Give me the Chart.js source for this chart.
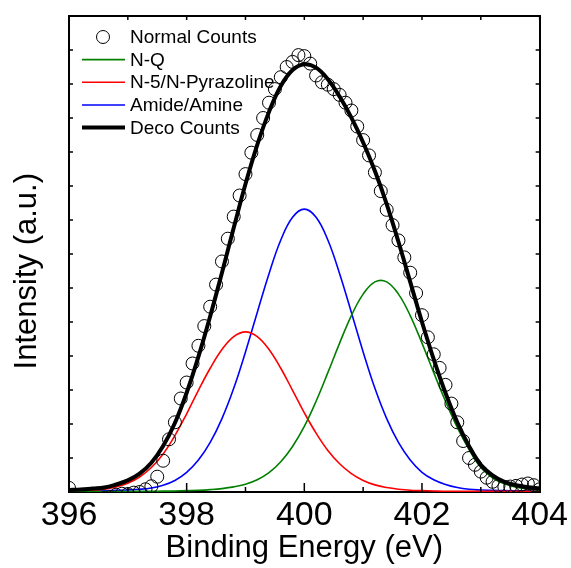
<!DOCTYPE html>
<html>
<head>
<meta charset="utf-8">
<script src="https://cdn.jsdelivr.net/npm/chart.js@4.4.1/dist/chart.umd.min.js"></script>
<style>
html, body { margin: 0; padding: 0; background: #fff; }
canvas { display: block; }
</style>
</head>
<body>
<canvas id="xps-canvas" width="571" height="568"></canvas>
<script>
// fitted components, binding energy grid (eV)
const energy = [396.0, 396.2, 396.4, 396.6, 396.8, 397.0, 397.2, 397.4, 397.6, 397.8,
	398.0, 398.2, 398.4, 398.6, 398.8, 399.0, 399.2, 399.4, 399.6, 399.8,
	400.0, 400.2, 400.4, 400.6, 400.8, 401.0, 401.2, 401.4, 401.6, 401.8,
	402.0, 402.2, 402.4, 402.6, 402.8, 403.0, 403.2, 403.4, 403.6, 403.8, 404.0];

const nQ = [0.01, 0.01, 0.01, 0.01, 0.015, 0.015, 0.02, 0.02, 0.025, 0.03,
	0.04, 0.05, 0.07, 0.10, 0.15, 0.23, 0.36, 0.57, 0.89, 1.34,
	1.93, 2.67, 3.51, 4.38, 5.19, 5.82, 6.18, 6.18, 5.82, 5.19,
	4.38, 3.51, 2.67, 1.90, 1.25, 0.72, 0.42, 0.24, 0.14, 0.09, 0.06];

const n5Pyrazoline = [0.02, 0.03, 0.05, 0.08, 0.15, 0.26, 0.44, 0.72, 1.12, 1.66,
	2.30, 2.99, 3.64, 4.19, 4.57, 4.71, 4.57, 4.19, 3.64, 2.99,
	2.33, 1.73, 1.22, 0.83, 0.54, 0.34, 0.21, 0.13, 0.08, 0.05,
	0.04, 0.03, 0.02, 0.02, 0.02, 0.02, 0.02, 0.02, 0.02, 0.02, 0.02];

const amideAmine = [0.03, 0.03, 0.035, 0.04, 0.05, 0.06, 0.08, 0.12, 0.20, 0.34,
	0.58, 0.94, 1.46, 2.16, 3.05, 4.12, 5.28, 6.42, 7.41, 8.08,
	8.32, 8.08, 7.41, 6.42, 5.28, 4.12, 3.05, 2.16, 1.46, 0.94,
	0.58, 0.36, 0.22, 0.13, 0.08, 0.06, 0.05, 0.04, 0.035, 0.03, 0.03];

const decoCounts = [0.06, 0.07, 0.10, 0.13, 0.22, 0.34, 0.54, 0.86, 1.35, 2.03,
	2.92, 3.98, 5.17, 6.45, 7.77, 9.06, 10.21, 11.18, 11.94, 12.41,
	12.58, 12.48, 12.14, 11.63, 11.01, 10.28, 9.44, 8.47, 7.36, 6.18,
	5.00, 3.90, 2.91, 2.05, 1.35, 0.80, 0.49, 0.30, 0.20, 0.14, 0.11];

// measured points
const countsEnergy = [396.0, 396.1, 396.2, 396.3, 396.4, 396.5, 396.6, 396.7, 396.8, 396.9,
	397.0, 397.1, 397.2, 397.3, 397.4, 397.5, 397.6, 397.7, 397.8, 397.9,
	398.0, 398.1, 398.2, 398.3, 398.4, 398.5, 398.6, 398.7, 398.8, 398.9,
	399.0, 399.1, 399.2, 399.3, 399.4, 399.5, 399.6, 399.7, 399.8, 399.9,
	400.0, 400.1, 400.2, 400.3, 400.4, 400.5, 400.6, 400.7, 400.8, 400.9,
	401.0, 401.1, 401.2, 401.3, 401.4, 401.5, 401.6, 401.7, 401.8, 401.9,
	402.0, 402.1, 402.2, 402.3, 402.4, 402.5, 402.6, 402.7, 402.8, 402.9,
	403.0, 403.1, 403.2, 403.3, 403.4, 403.5, 403.6, 403.7, 403.8, 403.9, 404.0];

const normalCounts = [0.12, -0.22, -0.2, -0.25, -0.2, -0.22, -0.18, -0.15, -0.08, -0.05,
	-0.06, -0.02, 0.0, 0.08, 0.17, 0.45, 0.92, 1.55, 2.05, 2.75,
	3.22, 3.78, 4.3, 4.88, 5.45, 6.1, 6.78, 7.45, 8.1, 8.72,
	9.35, 9.98, 10.5, 11.0, 11.45, 11.85, 12.2, 12.5, 12.65, 12.85,
	12.82, 12.6, 12.25, 12.05, 11.98, 11.85, 11.68, 11.45, 11.22, 10.75,
	10.35, 9.9, 9.4, 8.85, 8.3, 7.85, 7.4, 6.9, 6.45, 5.85,
	5.2, 4.55, 4.05, 3.65, 3.15, 2.6, 2.05, 1.5, 1.0, 0.8,
	0.6, 0.42, 0.3, 0.18, 0.15, 0.16, 0.18, 0.22, 0.25, 0.2, 0.08];

const xTickLabels = [396, 398, 400, 402, 404];

const toPoints = (xs, ys) => ys.map((y, i) => ({x: xs[i], y: y}));
const fontFamily = "'Liberation Sans', Arial, sans-serif";

// legend box in the top left corner of the plot
const boxLegend = {
	id: 'boxLegend',
	afterDatasetsDraw(chart) {
		const {ctx, chartArea} = chart;
		ctx.save();
		ctx.font = '19px ' + fontFamily;
		ctx.fillStyle = '#000';
		ctx.textBaseline = 'alphabetic';
		chart.data.datasets.forEach((ds, i) => {
			const y = chartArea.top + 21 + i * 22.65;
			const x0 = chartArea.left + 13;
			ctx.beginPath();
			if (ds.showLine) {
				ctx.strokeStyle = ds.borderColor;
				ctx.lineWidth = ds.borderWidth;
				ctx.moveTo(x0, y);
				ctx.lineTo(x0 + 43, y);
			} else {
				ctx.strokeStyle = ds.pointBorderColor;
				ctx.lineWidth = ds.pointBorderWidth;
				ctx.arc(x0 + 21, y, ds.pointRadius, 0, Math.PI * 2);
			}
			ctx.stroke();
			ctx.fillText(ds.label, chartArea.left + 61, y + 6);
		});
		ctx.restore();
	}
};

// inward tick marks on all four sides
const innerTicks = {
	id: 'innerTicks',
	afterDraw(chart) {
		const {ctx, chartArea: a, scales} = chart;
		ctx.save();
		ctx.strokeStyle = '#000';
		ctx.lineWidth = 1.5;
		ctx.beginPath();
		scales.x.ticks.forEach(t => {
			const px = scales.x.getPixelForValue(t.value);
			const len = xTickLabels.includes(t.value) ? 9 : 5;
			ctx.moveTo(px, a.bottom);
			ctx.lineTo(px, a.bottom - len);
			ctx.moveTo(px, a.top);
			ctx.lineTo(px, a.top + 4);
		});
		scales.y.ticks.forEach(t => {
			const py = scales.y.getPixelForValue(t.value);
			ctx.moveTo(a.left, py);
			ctx.lineTo(a.left + 4, py);
			ctx.moveTo(a.right, py);
			ctx.lineTo(a.right - 4, py);
		});
		ctx.stroke();
		ctx.restore();
	}
};

const frame = {display: true, color: '#000', width: 2};
const noGrid = {display: false, drawTicks: false};

new Chart('xps-canvas', {
	type: 'scatter',
	data: {
		datasets: [
			{
				label: 'Normal Counts',
				data: toPoints(countsEnergy, normalCounts),
				showLine: false,
				pointRadius: 6.5,
				pointBorderWidth: 1,
				pointBorderColor: '#000',
				pointBackgroundColor: 'rgba(0,0,0,0)',
				clip: 0,
				order: 1
			},
			{
				label: 'N-Q',
				data: toPoints(energy, nQ),
				showLine: true,
				borderColor: '#008000',
				borderWidth: 1.6,
				pointRadius: 0,
				tension: 0.4,
				order: 2
			},
			{
				label: 'N-5/N-Pyrazoline',
				data: toPoints(energy, n5Pyrazoline),
				showLine: true,
				borderColor: '#ff0000',
				borderWidth: 1.6,
				pointRadius: 0,
				tension: 0.4,
				order: 2
			},
			{
				label: 'Amide/Amine',
				data: toPoints(energy, amideAmine),
				showLine: true,
				borderColor: '#0000ff',
				borderWidth: 1.6,
				pointRadius: 0,
				tension: 0.4,
				order: 2
			},
			{
				label: 'Deco Counts',
				data: toPoints(energy, decoCounts),
				showLine: true,
				borderColor: '#000',
				borderWidth: 4,
				pointRadius: 0,
				tension: 0.4,
				order: 0
			}
		]
	},
	options: {
		responsive: false,
		animation: false,
		events: [],
		layout: {padding: 0},
		scales: {
			x: {
				type: 'linear',
				position: 'bottom',
				min: 396,
				max: 404,
				afterFit: s => { s.height = 76; },
				grid: noGrid,
				border: frame,
				ticks: {
					stepSize: 1,
					autoSkip: false,
					maxRotation: 0,
					padding: 3,
					color: '#000',
					font: {family: fontFamily, size: 34},
					callback: v => xTickLabels.includes(v) ? String(v) : ''
				},
				title: {
					display: true,
					text: 'Binding Energy (eV)',
					color: '#000',
					font: {family: fontFamily, size: 31},
					padding: {top: 0, bottom: 1}
				}
			},
			xTop: {
				type: 'linear',
				position: 'top',
				min: 396,
				max: 404,
				afterFit: s => { s.height = 16; },
				grid: noGrid,
				border: frame,
				ticks: {display: false, stepSize: 1}
			},
			y: {
				type: 'linear',
				position: 'left',
				min: 0,
				max: 14,
				afterFit: s => { s.width = 69; },
				grid: noGrid,
				border: frame,
				ticks: {display: false, stepSize: 1},
				title: {
					display: true,
					text: 'Intensity (a.u.)    ',
					color: '#000',
					font: {family: fontFamily, size: 31},
					padding: {top: 9, bottom: 0}
				}
			},
			yRight: {
				type: 'linear',
				position: 'right',
				min: 0,
				max: 14,
				afterFit: s => { s.width = 31; },
				grid: noGrid,
				border: frame,
				ticks: {display: false, stepSize: 1}
			}
		},
		plugins: {
			legend: {display: false},
			tooltip: {enabled: false}
		}
	},
	plugins: [boxLegend, innerTicks]
});
</script>
</body>
</html>
